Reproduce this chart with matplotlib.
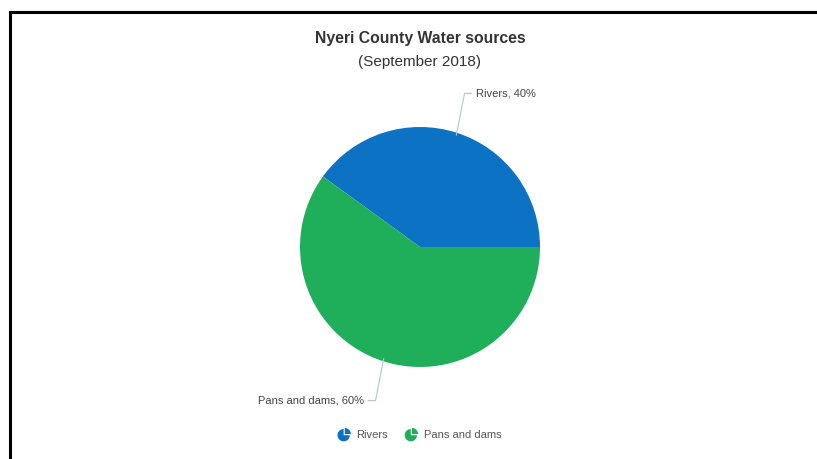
"""Pie chart of Nyeri County water sources."""

import matplotlib

matplotlib.use("Agg")

import matplotlib.pyplot as plt  # noqa: E402
import numpy as np  # noqa: E402
from matplotlib.legend_handler import HandlerBase  # noqa: E402
from matplotlib.patches import Patch, Wedge  # noqa: E402

sources = ["Rivers", "Pans and dams"]
shares = [40, 60]
colors = ["#0b72c4", "#1fae5a"]

plt.rcParams["font.family"] = ["Liberation Sans", "DejaVu Sans"]


class PieIconHandler(HandlerBase):
    """Small pie glyph with one slice pulled out, used as legend key."""

    def create_artists(self, legend, orig_handle, xdescent, ydescent,
                       width, height, fontsize, trans):
        r = height * 0.62
        cx = -xdescent + width / 2
        cy = -ydescent + height / 2
        color = orig_handle.get_facecolor()
        body = Wedge((cx - r * 0.1, cy - r * 0.1), r, 90, 360,
                     facecolor=color, edgecolor="none", transform=trans)
        off = r * 0.18
        piece = Wedge((cx - r * 0.1 + off, cy - r * 0.1 + off), r, 0, 90,
                      facecolor=color, edgecolor="none", transform=trans)
        return [body, piece]


fig = plt.figure(figsize=(8.17, 4.59), dpi=100)

# black frame along the top and left edges
fig.add_artist(plt.Line2D([10 / 817, 10 / 817], [0, 1 - 12 / 459],
                          color="black", linewidth=2.2,
                          transform=fig.transFigure))
fig.add_artist(plt.Line2D([10 / 817, 1], [1 - 12 / 459, 1 - 12 / 459],
                          color="black", linewidth=2.2,
                          transform=fig.transFigure))

fig.text(420 / 817, 1 - 38 / 459, "Nyeri County Water sources",
         ha="center", va="center", fontsize=11.3, fontweight="bold",
         color="#333333")
fig.text(420 / 817, 1 - 62 / 459, "(September 2018)",
         ha="center", va="center", fontsize=11, color="#333333")

ax = fig.add_axes([300 / 817, 92 / 459, 240 / 817, 240 / 459])
wedges, _ = ax.pie(shares, colors=colors, startangle=0, counterclock=True,
                   radius=1.0, wedgeprops={"linewidth": 0})
ax.set_xlim(-1, 1)
ax.set_ylim(-1, 1)
ax.set_aspect("equal")
ax.axis("off")

# slice labels with elbow leader lines
for wedge, name, share in zip(wedges, sources, shares):
    mid = np.deg2rad((wedge.theta1 + wedge.theta2) / 2)
    ex, ey = np.cos(mid) * 0.98, np.sin(mid) * 0.98
    side = 1 if np.cos(mid) >= 0 else -1
    kx = np.cos(mid) * 1.2
    ky = np.sign(np.sin(mid)) * 1.28
    hx = kx + side * 0.06
    ax.plot([ex, kx, hx], [ey, ky, ky], color="#b8c4cc", linewidth=0.8,
            clip_on=False)
    ax.text(hx + side * 0.04, ky, f"{name}, {share}%",
            ha="left" if side > 0 else "right", va="center",
            fontsize=8, color="#444444", clip_on=False)

handles = [Patch(facecolor=c, label=s) for c, s in zip(colors, sources)]
fig.legend(handles=handles, loc="center", ncol=2, frameon=False,
           bbox_to_anchor=(420 / 817, 1 - 435 / 459), fontsize=8,
           labelcolor="#555555", handlelength=1.0, handleheight=1.0,
           handletextpad=0.6, columnspacing=1.6,
           handler_map={Patch: PieIconHandler()})

fig.savefig("out.png", dpi=100)
plt.close(fig)
